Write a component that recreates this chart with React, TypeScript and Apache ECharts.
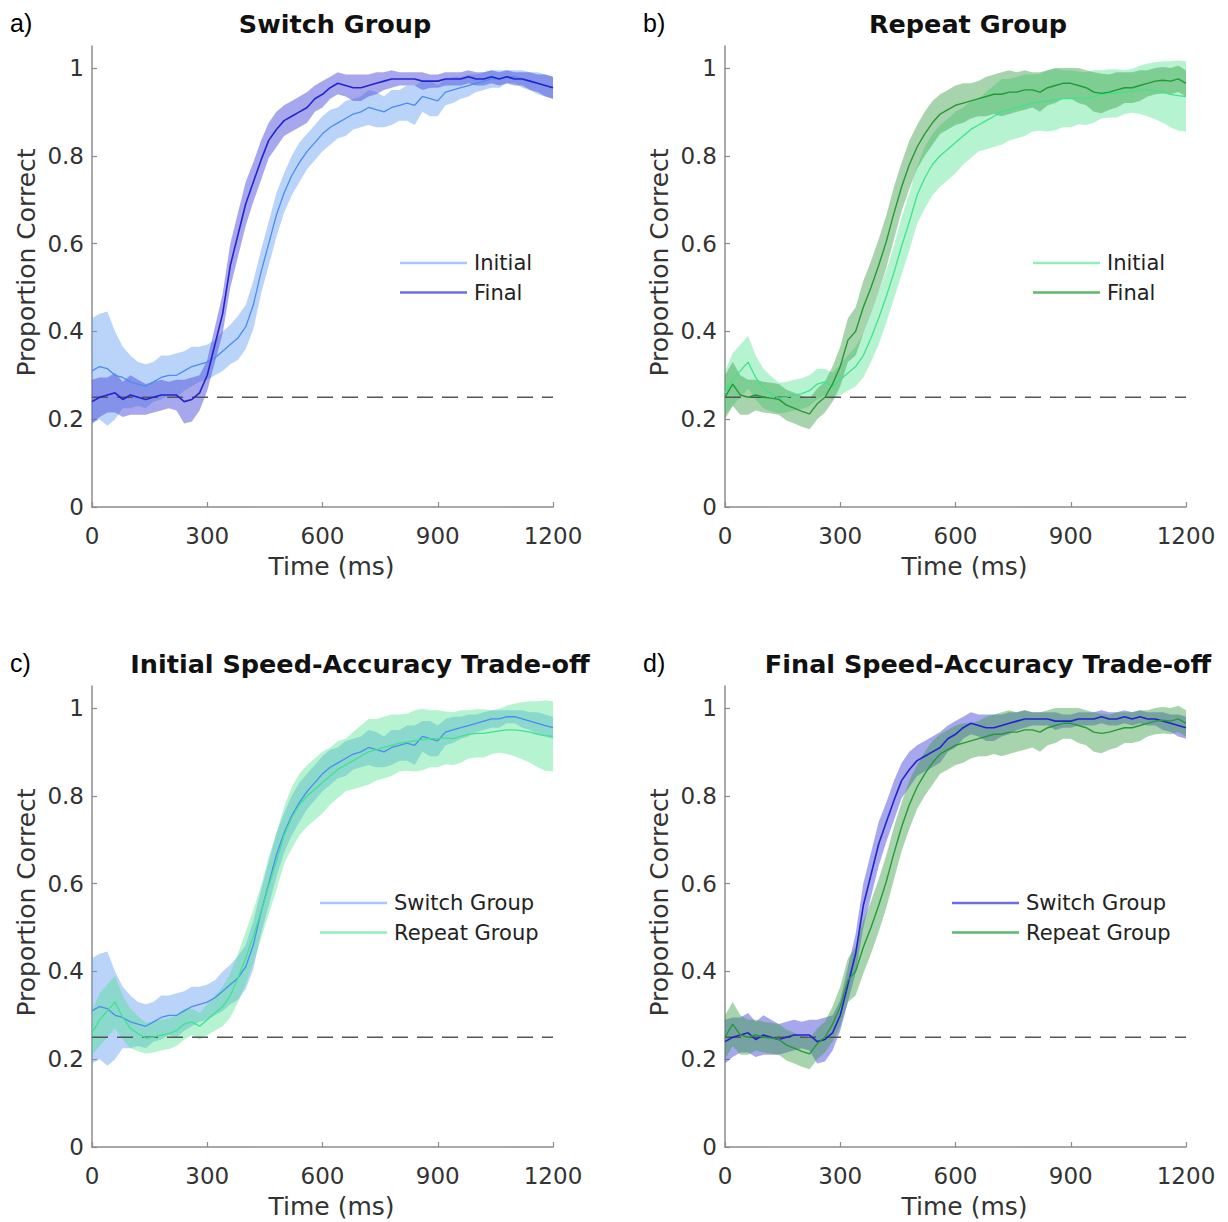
import React, { useEffect, useRef } from "react";
import * as echarts from "echarts";

const TIME = [0, 20, 40, 60, 80, 100, 120, 140, 160, 180, 200, 220, 240, 260, 280, 300, 320, 340, 360, 380, 400, 420, 440, 460, 480, 500, 520, 540, 560, 580, 600, 620, 640, 660, 680, 700, 720, 740, 760, 780, 800, 820, 840, 860, 880, 900, 920, 940, 960, 980, 1000, 1020, 1040, 1060, 1080, 1100, 1120, 1140, 1160, 1180, 1200];

const Y_TICKS = [0, 0.2, 0.4, 0.6, 0.8, 1];
const CHANCE = 0.25;

// Switch group, initial
const SI_MEAN = [0.31, 0.32, 0.315, 0.3, 0.295, 0.285, 0.28, 0.275, 0.285, 0.295, 0.3, 0.3, 0.31, 0.32, 0.325, 0.33, 0.34, 0.355, 0.37, 0.385, 0.41, 0.46, 0.535, 0.6, 0.665, 0.715, 0.755, 0.785, 0.81, 0.83, 0.85, 0.865, 0.875, 0.885, 0.895, 0.9, 0.91, 0.905, 0.9, 0.91, 0.915, 0.92, 0.915, 0.935, 0.93, 0.925, 0.945, 0.95, 0.955, 0.96, 0.965, 0.97, 0.975, 0.975, 0.98, 0.98, 0.975, 0.97, 0.965, 0.96, 0.955];
const SI_HW = [0.12, 0.12, 0.13, 0.1, 0.07, 0.06, 0.05, 0.05, 0.045, 0.05, 0.045, 0.05, 0.045, 0.045, 0.04, 0.04, 0.04, 0.045, 0.045, 0.05, 0.05, 0.055, 0.05, 0.05, 0.05, 0.045, 0.045, 0.045, 0.04, 0.04, 0.04, 0.04, 0.035, 0.04, 0.035, 0.035, 0.04, 0.04, 0.035, 0.04, 0.035, 0.04, 0.045, 0.035, 0.04, 0.035, 0.03, 0.03, 0.025, 0.025, 0.02, 0.02, 0.02, 0.02, 0.015, 0.015, 0.02, 0.02, 0.025, 0.025, 0.025];

// Switch group, final
const SF_MEAN = [0.24, 0.25, 0.255, 0.26, 0.245, 0.255, 0.25, 0.245, 0.25, 0.255, 0.255, 0.255, 0.24, 0.245, 0.26, 0.3, 0.37, 0.44, 0.55, 0.62, 0.69, 0.74, 0.79, 0.835, 0.86, 0.88, 0.89, 0.9, 0.91, 0.93, 0.94, 0.955, 0.965, 0.96, 0.955, 0.955, 0.96, 0.965, 0.97, 0.975, 0.975, 0.975, 0.975, 0.97, 0.97, 0.97, 0.975, 0.975, 0.975, 0.98, 0.975, 0.975, 0.98, 0.975, 0.98, 0.975, 0.975, 0.97, 0.965, 0.96, 0.955];
const SF_HW = [0.05, 0.045, 0.04, 0.045, 0.04, 0.045, 0.04, 0.035, 0.035, 0.035, 0.03, 0.035, 0.05, 0.05, 0.04, 0.035, 0.04, 0.045, 0.05, 0.05, 0.05, 0.045, 0.045, 0.04, 0.04, 0.035, 0.035, 0.035, 0.035, 0.03, 0.03, 0.025, 0.025, 0.025, 0.03, 0.03, 0.025, 0.025, 0.02, 0.02, 0.015, 0.015, 0.015, 0.02, 0.015, 0.015, 0.015, 0.015, 0.015, 0.015, 0.015, 0.015, 0.015, 0.015, 0.015, 0.015, 0.015, 0.02, 0.02, 0.025, 0.025];

// Repeat group, initial
const RI_MEAN = [0.26, 0.29, 0.31, 0.33, 0.295, 0.27, 0.258, 0.248, 0.25, 0.255, 0.258, 0.265, 0.28, 0.285, 0.275, 0.29, 0.305, 0.32, 0.345, 0.385, 0.43, 0.48, 0.535, 0.595, 0.65, 0.71, 0.75, 0.78, 0.8, 0.815, 0.83, 0.845, 0.86, 0.87, 0.88, 0.89, 0.9, 0.905, 0.91, 0.915, 0.92, 0.922, 0.925, 0.928, 0.93, 0.93, 0.932, 0.93, 0.935, 0.94, 0.942, 0.942, 0.945, 0.948, 0.95, 0.95, 0.948, 0.945, 0.94, 0.937, 0.935];
const RI_HW = [0.05, 0.06, 0.06, 0.06, 0.05, 0.045, 0.04, 0.035, 0.035, 0.035, 0.035, 0.035, 0.035, 0.03, 0.03, 0.035, 0.04, 0.045, 0.05, 0.055, 0.06, 0.06, 0.06, 0.065, 0.065, 0.065, 0.07, 0.07, 0.07, 0.07, 0.07, 0.065, 0.065, 0.06, 0.065, 0.07, 0.075, 0.07, 0.07, 0.07, 0.065, 0.065, 0.07, 0.07, 0.065, 0.065, 0.06, 0.06, 0.06, 0.055, 0.055, 0.055, 0.05, 0.05, 0.055, 0.06, 0.065, 0.07, 0.075, 0.08, 0.08];

// Repeat group, final
const RF_MEAN = [0.25, 0.28, 0.255, 0.25, 0.255, 0.25, 0.248, 0.245, 0.232, 0.225, 0.218, 0.212, 0.235, 0.25, 0.28, 0.32, 0.38, 0.4, 0.455, 0.5, 0.55, 0.605, 0.67, 0.73, 0.78, 0.82, 0.85, 0.875, 0.895, 0.905, 0.915, 0.92, 0.925, 0.93, 0.935, 0.94, 0.94, 0.945, 0.945, 0.95, 0.95, 0.945, 0.955, 0.96, 0.965, 0.965, 0.96, 0.955, 0.945, 0.942, 0.945, 0.95, 0.955, 0.955, 0.96, 0.965, 0.97, 0.972, 0.97, 0.975, 0.965];
const RF_HW = [0.05, 0.05, 0.045, 0.04, 0.035, 0.035, 0.035, 0.035, 0.035, 0.035, 0.035, 0.035, 0.035, 0.035, 0.04, 0.045, 0.05, 0.055, 0.06, 0.06, 0.06, 0.06, 0.06, 0.055, 0.055, 0.05, 0.05, 0.05, 0.045, 0.045, 0.045, 0.045, 0.04, 0.04, 0.045, 0.045, 0.05, 0.05, 0.045, 0.045, 0.04, 0.045, 0.04, 0.04, 0.035, 0.035, 0.04, 0.04, 0.045, 0.045, 0.04, 0.04, 0.035, 0.035, 0.035, 0.03, 0.03, 0.03, 0.03, 0.03, 0.03];

const C = {
  siLine: "#4a8cef", siBand: "rgba(100,160,240,0.45)", siLeg: "#a9c9f5",
  sfLine: "#2424cf", sfBand: "rgba(80,80,220,0.5)", sfLeg: "#6d6de4",
  riLine: "#3fe38c", riBand: "rgba(70,225,140,0.4)", riLeg: "#8ef0b8",
  rfLine: "#239a35", rfBand: "rgba(60,160,70,0.45)", rfLeg: "#5cb868",
};

type Curve = { mean: number[]; hw: number[]; band: string; line: string; width: number };

const SI: Curve = { mean: SI_MEAN, hw: SI_HW, band: C.siBand, line: C.siLine, width: 1.3 };
const SF: Curve = { mean: SF_MEAN, hw: SF_HW, band: C.sfBand, line: C.sfLine, width: 1.6 };
const RI: Curve = { mean: RI_MEAN, hw: RI_HW, band: C.riBand, line: C.riLine, width: 1.3 };
const RF: Curve = { mean: RF_MEAN, hw: RF_HW, band: C.rfBand, line: C.rfLine, width: 1.4 };

const PANELS = [
  { letter: "a)", lx: 10, ly: 10, left: 92, top: 46, title: "Switch Group", tx: 335, ty: 11,
    curves: [SI, SF], legX: 400, legY: 263, names: ["Initial", "Final"], legColors: [C.siLeg, C.sfLeg] },
  { letter: "b)", lx: 643, ly: 10, left: 725, top: 46, title: "Repeat Group", tx: 968, ty: 11,
    curves: [RI, RF], legX: 1033, legY: 263, names: ["Initial", "Final"], legColors: [C.riLeg, C.rfLeg] },
  { letter: "c)", lx: 10, ly: 650, left: 92, top: 686, title: "Initial Speed-Accuracy Trade-off", tx: 360, ty: 651,
    curves: [SI, RI], legX: 320, legY: 903, names: ["Switch Group", "Repeat Group"], legColors: [C.siLeg, C.riLeg] },
  { letter: "d)", lx: 643, ly: 650, left: 725, top: 686, title: "Final Speed-Accuracy Trade-off", tx: 988, ty: 651,
    curves: [SF, RF], legX: 952, legY: 903, names: ["Switch Group", "Repeat Group"], legColors: [C.sfLeg, C.rfLeg] },
];

const FONT = "DejaVu Sans";
const AX = "#8c8c8c";

function bandSeries(g: number, c: Curve) {
  return {
    type: "custom",
    xAxisIndex: g,
    yAxisIndex: g,
    silent: true,
    clip: true,
    z: 1,
    data: TIME.map((t, i) => [t, c.mean[i] - c.hw[i], c.mean[i] + c.hw[i]]),
    encode: { x: 0, y: [1, 2] },
    renderItem: (params: any, api: any) => {
      if (params.dataIndex !== 0) return null;
      const up = TIME.map((t, i) => api.coord([t, c.mean[i] + c.hw[i]]));
      const lo = TIME.map((t, i) => api.coord([t, c.mean[i] - c.hw[i]])).reverse();
      return { type: "polygon", shape: { points: up.concat(lo) }, style: { fill: c.band, stroke: null } };
    },
  };
}

function lineSeries(g: number, c: Curve) {
  return {
    type: "line",
    xAxisIndex: g,
    yAxisIndex: g,
    symbol: "none",
    silent: true,
    z: 4,
    lineStyle: { color: c.line, width: c.width },
    data: TIME.map((t, i) => [t, c.mean[i]]),
  };
}

export default function App() {
  const ref = useRef<HTMLDivElement>(null);
  useEffect(() => {
    document.body.style.margin = "0";
    const chart = echarts.init(ref.current!, null, { renderer: "svg" });
    const grid: any[] = [];
    const xAxis: any[] = [];
    const yAxis: any[] = [];
    const series: any[] = [];
    const title: any[] = [];
    const graphic: any[] = [];
    PANELS.forEach((p, g) => {
      grid.push({ left: p.left, top: p.top, width: 461, height: 461, containLabel: false, outerBoundsMode: "none" });
      xAxis.push({
        type: "value", gridIndex: g, min: 0, max: 1200, interval: 300,
        axisLine: { show: true, lineStyle: { color: AX, width: 1.5 } },
        axisTick: { show: true, inside: true, length: 5, lineStyle: { color: AX, width: 1.2 } },
        axisLabel: { formatter: (v: number) => String(v), fontSize: 23, color: "#333", fontFamily: FONT, margin: 17 },
        splitLine: { show: false },
        name: "Time (ms)", nameLocation: "middle", nameGap: 47,
        nameTextStyle: { fontSize: 25, color: "#333", fontFamily: FONT, padding: [0, 0, 0, 18] },
      });
      yAxis.push({
        type: "value", gridIndex: g, min: 0, max: 1.05,
        axisLine: { show: true, lineStyle: { color: AX, width: 1.5 } },
        axisTick: { show: true, inside: true, length: 5, lineStyle: { color: AX, width: 1.2 }, customValues: Y_TICKS },
        axisLabel: { customValues: Y_TICKS, formatter: (v: number) => String(Math.round(v * 10) / 10), fontSize: 23, color: "#333", fontFamily: FONT, margin: 8 },
        splitLine: { show: false },
        name: "Proportion Correct", nameLocation: "middle", nameGap: 53,
        nameTextStyle: { fontSize: 25, color: "#333", fontFamily: FONT, padding: [0, 0, 0, 28] },
      });
      p.curves.forEach((c) => series.push(bandSeries(g, c)));
      series.push({
        type: "line", xAxisIndex: g, yAxisIndex: g, symbol: "none", silent: true, z: 3,
        lineStyle: { color: "#555", width: 1.5, type: [16, 9] },
        data: [[0, CHANCE], [1200, CHANCE]],
      });
      p.curves.forEach((c) => series.push(lineSeries(g, c)));
      title.push({
        text: p.title, left: p.tx, top: p.ty, textAlign: "center", padding: 0,
        textStyle: { fontFamily: FONT, fontWeight: "bold", fontSize: 25.5, color: "#111" },
      });
      graphic.push({
        type: "text", x: p.lx, y: p.ly,
        style: { text: p.letter, fontFamily: "Liberation Sans", fontSize: 25, fill: "#000" },
      });
      p.names.forEach((nm, k) => {
        const y = p.legY + k * 29.5;
        graphic.push({
          type: "line", shape: { x1: p.legX, y1: y, x2: p.legX + 67, y2: y },
          style: { stroke: p.legColors[k], lineWidth: 2.5 },
        });
        graphic.push({
          type: "text", x: p.legX + 74, y,
          style: { text: nm, fontFamily: FONT, fontSize: 21, fill: "#222", verticalAlign: "middle", align: "left" },
        });
      });
    });
    chart.setOption({ animation: false, backgroundColor: "#fff", grid, xAxis, yAxis, series, title, graphic });
    return () => chart.dispose();
  }, []);
  return <div ref={ref} style={{ width: 1228, height: 1222 }} />;
}
